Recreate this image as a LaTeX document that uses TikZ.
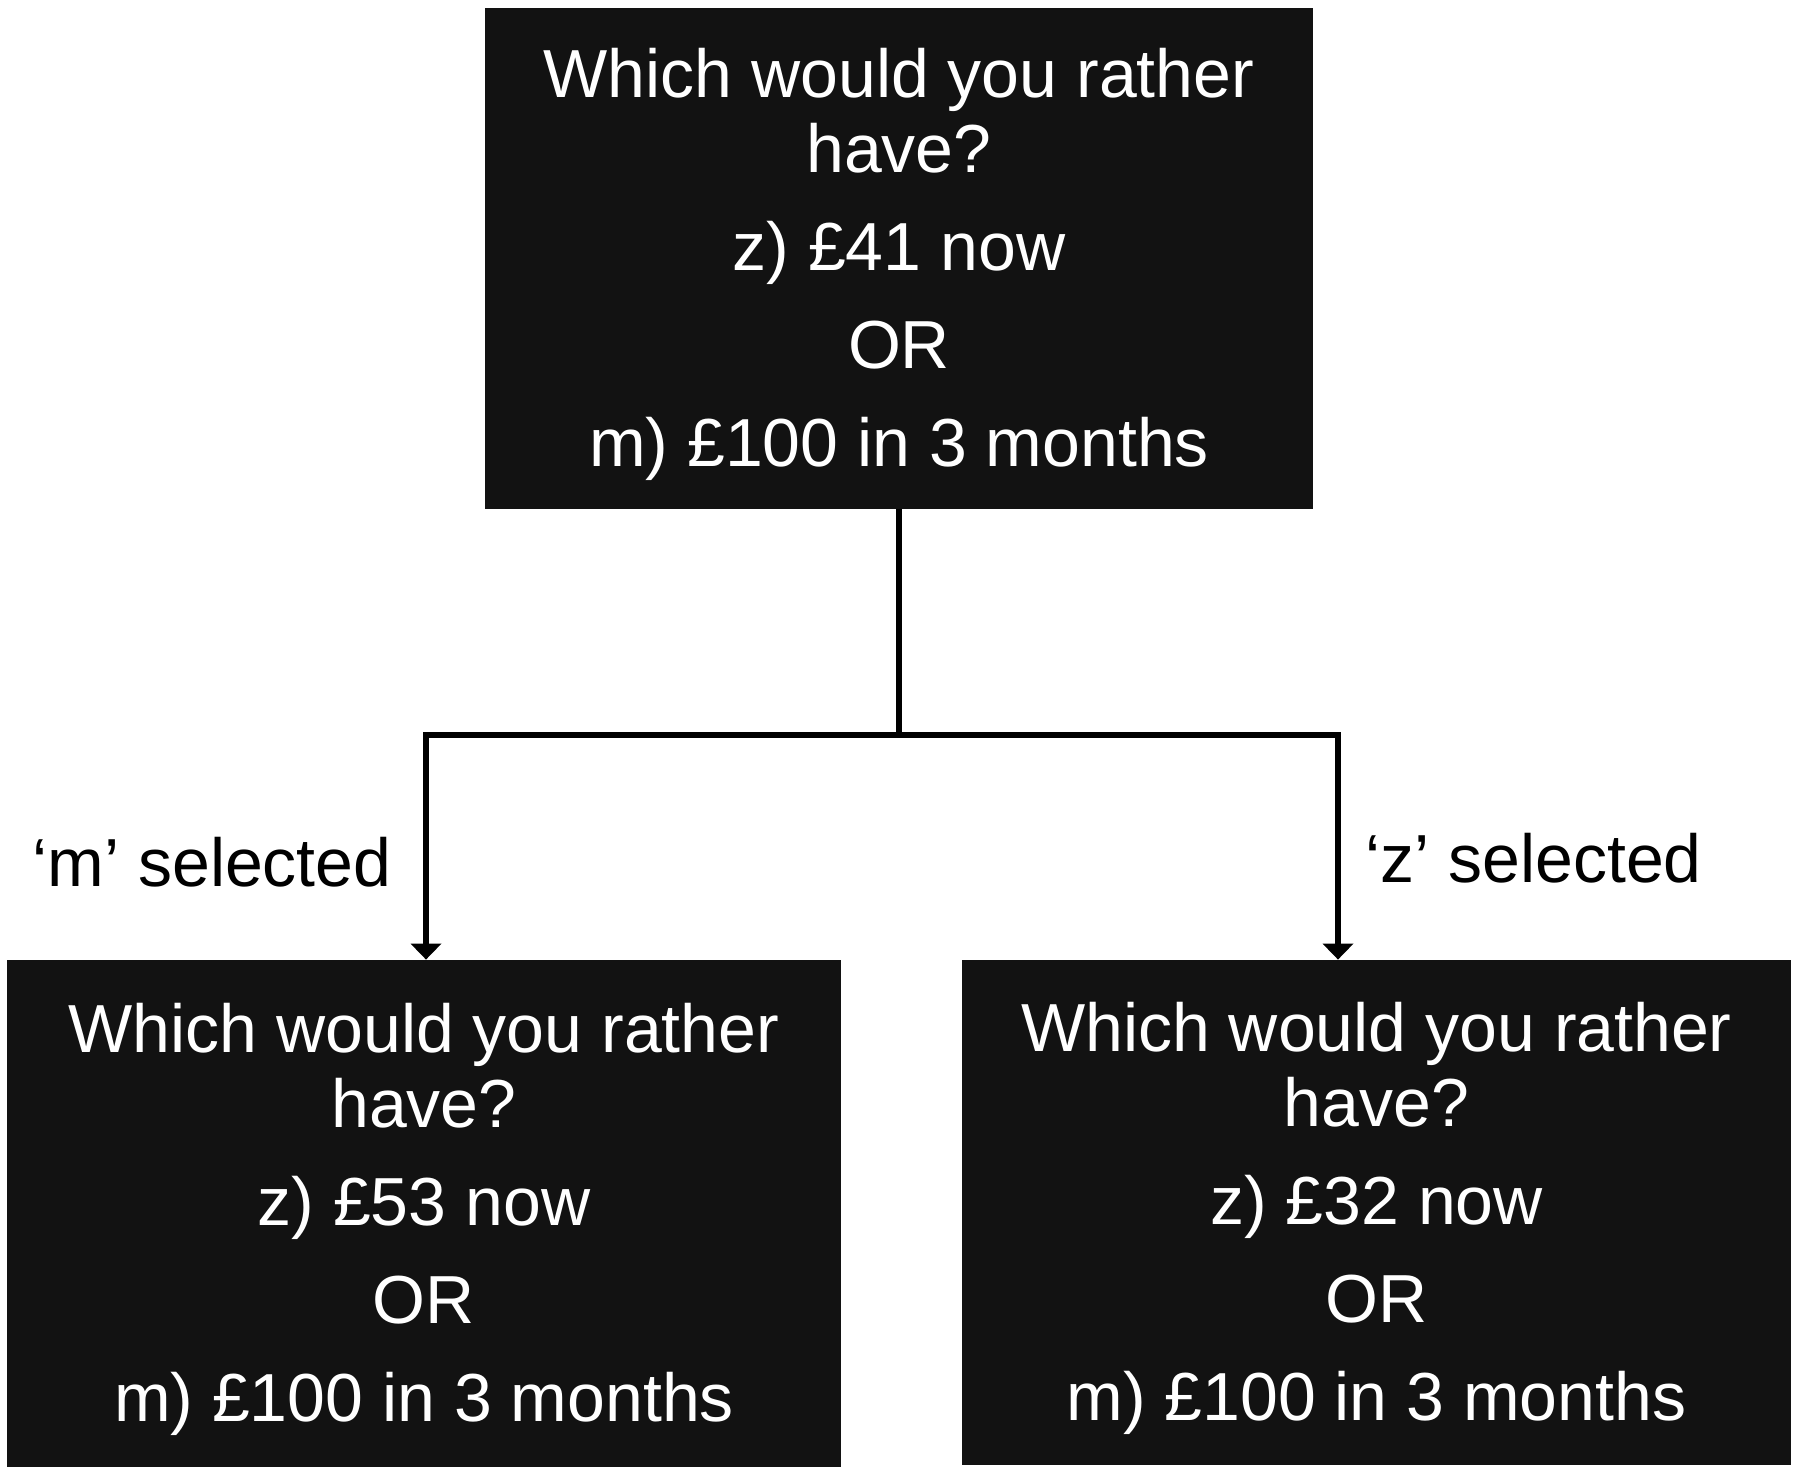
\documentclass[tikz,border=0pt]{standalone}
\usepackage{fontspec}
\setmainfont{Liberation Sans}
\usetikzlibrary{arrows.meta}

\newlength{\du}
\setlength{\du}{0.5pt}
\definecolor{boxcolor}{rgb}{0.070000, 0.070000, 0.070000}
% pushes the first line of a box a little lower
\newcommand{\toppad}{\rule{0pt}{30.5pt}}

\tikzset{
  question/.style={draw=none, fill=boxcolor, text=white, align=center, inner sep=0pt,
    font=\fontsize{34}{37.5}\selectfont, minimum width=830\du, minimum height=506\du},
  branch/.style={draw=black, line width=2.75pt, line join=miter},
  choice/.style={branch, -{Triangle[width=15pt,length=8pt]}},
  picked/.style={inner sep=0pt, font=\fontsize{34}{40}\selectfont}
}

\begin{document}
\begin{tikzpicture}
\pgftransformxscale{1.000000}
\pgftransformyscale{-1.000000}
\useasboundingbox (0\du,0\du) rectangle (1800\du,1471\du);
% first question
\node[question, minimum width=828\du, minimum height=501\du] (qtop) at (899\du,258.5\du){\toppad Which would you rather\\have?\\[11.5pt]z) £41 now\\[11.5pt]OR\\[11.5pt]m) £100 in 3 months};
% follow-up questions
\node[question, minimum width=834\du, minimum height=507\du] (qleft) at (424\du,1213.5\du){\toppad Which would you rather\\have?\\[11.5pt]z) £53 now\\[11.5pt]OR\\[11.5pt]m) £100 in 3 months};
\node[question, minimum width=829\du, minimum height=505\du] (qright) at (1376.5\du,1212.5\du){\toppad Which would you rather\\have?\\[11.5pt]z) £32 now\\[11.5pt]OR\\[11.5pt]m) £100 in 3 months};
% branches
\coordinate (split) at (899\du,735\du);
\coordinate (jleft) at (426\du,735\du);
\coordinate (jright) at (1338\du,735\du);
\draw[branch] (qtop.south) -- (split);
\draw[choice] (split) -- (jleft) -- (jleft |- qleft.north);
\draw[choice] (split) -- (jright) -- (jright |- qright.north);
% answers
\node[picked, anchor=base east] (mpicked) at (392\du,886\du){‘m’ selected};
\node[picked, anchor=base west] (zpicked) at (1365\du,882\du){‘z’ selected};
\end{tikzpicture}
\end{document}
